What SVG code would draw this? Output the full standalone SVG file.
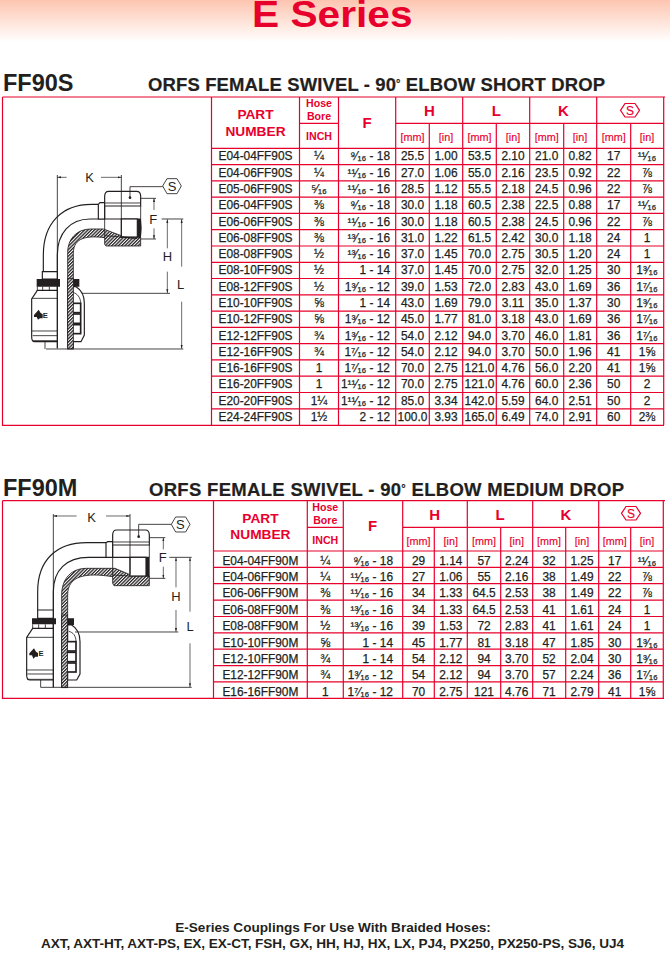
<svg xmlns="http://www.w3.org/2000/svg" width="670" height="953" viewBox="0 0 670 953">
<style>
text{font-family:"Liberation Sans","DejaVu Sans",Arial,sans-serif;fill:#231f20}
.d text{font-size:11.9px;text-anchor:middle;stroke:#231f20;stroke-width:.25}
.d text.r{text-anchor:end}
.h{font-weight:bold;text-anchor:middle;font-size:13.7px;fill:#e8002d}
.s{font-weight:bold;text-anchor:middle;font-size:10.6px;fill:#e8002d}
.c{font-weight:bold;text-anchor:middle;font-size:15px;fill:#e8002d}
.u{text-anchor:middle;font-size:10.8px;fill:#e8002d;stroke:#e8002d;stroke-width:.15}
.ti{font-weight:bold;font-size:18.5px;stroke:#231f20;stroke-width:.2}
.co{font-weight:bold;font-size:23.5px}
.f{font-weight:bold;font-size:13.6px;text-anchor:middle}
.g{fill:none;stroke:#e8002d;stroke-width:1.2}
.l{fill:none;stroke:#231f20;stroke-width:3.5}
.t{fill:none;stroke:#231f20;stroke-width:2.5}
.rb{fill:#fff;stroke:#231f20;stroke-width:5}
.k{fill:#231f20}
.w{fill:#fff;stroke:#231f20;stroke-width:3.5}
.x{fill:url(#hatch);stroke:#231f20;stroke-width:2.5}
.dl{font-size:39px;text-anchor:middle;fill:#231f20}
.ar{fill:none;stroke:#231f20;stroke-width:2;marker-end:url(#am)}
</style>
<defs>
<linearGradient id="top" x1="0" y1="0" x2="0" y2="1"><stop offset="0" stop-color="#fdc5b0"/><stop offset="1" stop-color="#fff"/></linearGradient>
<pattern id="hatch" width="7" height="7" patternUnits="userSpaceOnUse" patternTransform="rotate(-45)"><rect width="7" height="7" fill="#fff"/><rect width="7" height="3.8" fill="#231f20"/></pattern>
<marker id="am" markerWidth="12" markerHeight="8" refX="11" refY="4" orient="auto" markerUnits="userSpaceOnUse"><path d="M0 1L11 4L0 7Z" fill="#231f20"/></marker>
</defs>
<rect width="670" height="42" fill="url(#top)"/>
<text transform="translate(252,26.500) scale(1.13,1)" font-size="36" font-weight="bold" style="fill:#e8002d">E Series</text>

<g id="section-ff90s">
<text class="co" x="3" y="91">FF90S</text>
<text class="ti" x="148" y="91" textLength="457" lengthAdjust="spacing">ORFS FEMALE SWIVEL - 90<tspan font-size="11" dy="-4">°</tspan><tspan dy="4"> ELBOW SHORT DROP</tspan></text>
<path class="g" d="M2.500 97H665M2.500 97V425.300H664M211.500 97V425M299.500 97V425M338.500 97V425M395.700 97V425M462.700 97V425M529.700 97V425M596.700 97V425M663.700 97V425M429.300 123.300V425M496.300 123.300V425M563.700 123.300V425M630.700 123.300V425M299.500 123.300H338.500M395.700 123.300H663.700M211.500 148.300H663.700M211.500 164.600H663.700M211.500 180.900H663.700M211.500 197.200H663.700M211.500 213.400H663.700M211.500 229.700H663.700M211.500 246H663.700M211.500 262.300H663.700M211.500 278.500H663.700M211.500 294.800H663.700M211.500 311.100H663.700M211.500 327.400H663.700M211.500 343.700H663.700M211.500 359.900H663.700M211.500 376.200H663.700M211.500 392.500H663.700M211.500 408.800H663.700"/>
<text class="h" x="255.500" y="119">PART</text><text class="h" x="255.500" y="136">NUMBER</text>
<text class="s" x="319" y="107">Hose</text><text class="s" x="319" y="120">Bore</text><text class="s" x="319" y="140">INCH</text>
<text class="c" x="367" y="128">F</text><text class="c" x="429.300" y="115.500">H</text><text class="c" x="496.300" y="115.500">L</text><text class="c" x="563.300" y="115.500">K</text>
<path class="g" d="M620.500 110.300L625 103.500H635L639.500 110.300L635 117H625Z"/><text class="u" x="630" y="114.500" style="font-size:12px">S</text>
<text class="u" x="412.500" y="141">[mm]</text><text class="u" x="446" y="141">[in]</text><text class="u" x="479.500" y="141">[mm]</text><text class="u" x="513" y="141">[in]</text><text class="u" x="546.700" y="141">[mm]</text><text class="u" x="580" y="141">[in]</text><text class="u" x="613.700" y="141">[mm]</text><text class="u" x="647" y="141">[in]</text>
<g class="d">
<g transform="translate(0,160.400)"><text x="255.500">E04-04FF90S</text><text x="319">¼</text><text class="r" x="390">⁹⁄₁₆ - 18</text><text x="412.500">25.5</text><text x="446">1.00</text><text x="479.500">53.5</text><text x="513">2.10</text><text x="546.700">21.0</text><text x="580">0.82</text><text x="613.700">17</text><text x="647">¹¹⁄₁₆</text></g>
<g transform="translate(0,176.700)"><text x="255.500">E04-06FF90S</text><text x="319">¼</text><text class="r" x="390">¹¹⁄₁₆ - 16</text><text x="412.500">27.0</text><text x="446">1.06</text><text x="479.500">55.0</text><text x="513">2.16</text><text x="546.700">23.5</text><text x="580">0.92</text><text x="613.700">22</text><text x="647">⅞</text></g>
<g transform="translate(0,193)"><text x="255.500">E05-06FF90S</text><text x="319">⁵⁄₁₆</text><text class="r" x="390">¹¹⁄₁₆ - 16</text><text x="412.500">28.5</text><text x="446">1.12</text><text x="479.500">55.5</text><text x="513">2.18</text><text x="546.700">24.5</text><text x="580">0.96</text><text x="613.700">22</text><text x="647">⅞</text></g>
<g transform="translate(0,209.200)"><text x="255.500">E06-04FF90S</text><text x="319">⅜</text><text class="r" x="390">⁹⁄₁₆ - 18</text><text x="412.500">30.0</text><text x="446">1.18</text><text x="479.500">60.5</text><text x="513">2.38</text><text x="546.700">22.5</text><text x="580">0.88</text><text x="613.700">17</text><text x="647">¹¹⁄₁₆</text></g>
<g transform="translate(0,225.500)"><text x="255.500">E06-06FF90S</text><text x="319">⅜</text><text class="r" x="390">¹¹⁄₁₆ - 16</text><text x="412.500">30.0</text><text x="446">1.18</text><text x="479.500">60.5</text><text x="513">2.38</text><text x="546.700">24.5</text><text x="580">0.96</text><text x="613.700">22</text><text x="647">⅞</text></g>
<g transform="translate(0,241.800)"><text x="255.500">E06-08FF90S</text><text x="319">⅜</text><text class="r" x="390">¹³⁄₁₆ - 16</text><text x="412.500">31.0</text><text x="446">1.22</text><text x="479.500">61.5</text><text x="513">2.42</text><text x="546.700">30.0</text><text x="580">1.18</text><text x="613.700">24</text><text x="647">1</text></g>
<g transform="translate(0,258.100)"><text x="255.500">E08-08FF90S</text><text x="319">½</text><text class="r" x="390">¹³⁄₁₆ - 16</text><text x="412.500">37.0</text><text x="446">1.45</text><text x="479.500">70.0</text><text x="513">2.75</text><text x="546.700">30.5</text><text x="580">1.20</text><text x="613.700">24</text><text x="647">1</text></g>
<g transform="translate(0,274.300)"><text x="255.500">E08-10FF90S</text><text x="319">½</text><text class="r" x="390">1 - 14</text><text x="412.500">37.0</text><text x="446">1.45</text><text x="479.500">70.0</text><text x="513">2.75</text><text x="546.700">32.0</text><text x="580">1.25</text><text x="613.700">30</text><text x="647">1³⁄₁₆</text></g>
<g transform="translate(0,290.600)"><text x="255.500">E08-12FF90S</text><text x="319">½</text><text class="r" x="390">1³⁄₁₆ - 12</text><text x="412.500">39.0</text><text x="446">1.53</text><text x="479.500">72.0</text><text x="513">2.83</text><text x="546.700">43.0</text><text x="580">1.69</text><text x="613.700">36</text><text x="647">1⁷⁄₁₆</text></g>
<g transform="translate(0,306.900)"><text x="255.500">E10-10FF90S</text><text x="319">⅝</text><text class="r" x="390">1 - 14</text><text x="412.500">43.0</text><text x="446">1.69</text><text x="479.500">79.0</text><text x="513">3.11</text><text x="546.700">35.0</text><text x="580">1.37</text><text x="613.700">30</text><text x="647">1³⁄₁₆</text></g>
<g transform="translate(0,323.200)"><text x="255.500">E10-12FF90S</text><text x="319">⅝</text><text class="r" x="390">1³⁄₁₆ - 12</text><text x="412.500">45.0</text><text x="446">1.77</text><text x="479.500">81.0</text><text x="513">3.18</text><text x="546.700">43.0</text><text x="580">1.69</text><text x="613.700">36</text><text x="647">1⁷⁄₁₆</text></g>
<g transform="translate(0,339.500)"><text x="255.500">E12-12FF90S</text><text x="319">¾</text><text class="r" x="390">1³⁄₁₆ - 12</text><text x="412.500">54.0</text><text x="446">2.12</text><text x="479.500">94.0</text><text x="513">3.70</text><text x="546.700">46.0</text><text x="580">1.81</text><text x="613.700">36</text><text x="647">1⁷⁄₁₆</text></g>
<g transform="translate(0,355.700)"><text x="255.500">E12-16FF90S</text><text x="319">¾</text><text class="r" x="390">1⁷⁄₁₆ - 12</text><text x="412.500">54.0</text><text x="446">2.12</text><text x="479.500">94.0</text><text x="513">3.70</text><text x="546.700">50.0</text><text x="580">1.96</text><text x="613.700">41</text><text x="647">1⅝</text></g>
<g transform="translate(0,372)"><text x="255.500">E16-16FF90S</text><text x="319">1</text><text class="r" x="390">1⁷⁄₁₆ - 12</text><text x="412.500">70.0</text><text x="446">2.75</text><text x="479.500">121.0</text><text x="513">4.76</text><text x="546.700">56.0</text><text x="580">2.20</text><text x="613.700">41</text><text x="647">1⅝</text></g>
<g transform="translate(0,388.300)"><text x="255.500">E16-20FF90S</text><text x="319">1</text><text class="r" x="390">1¹¹⁄₁₆ - 12</text><text x="412.500">70.0</text><text x="446">2.75</text><text x="479.500">121.0</text><text x="513">4.76</text><text x="546.700">60.0</text><text x="580">2.36</text><text x="613.700">50</text><text x="647">2</text></g>
<g transform="translate(0,404.600)"><text x="255.500">E20-20FF90S</text><text x="319">1¼</text><text class="r" x="390">1¹¹⁄₁₆ - 12</text><text x="412.500">85.0</text><text x="446">3.34</text><text x="479.500">142.0</text><text x="513">5.59</text><text x="546.700">64.0</text><text x="580">2.51</text><text x="613.700">50</text><text x="647">2</text></g>
<g transform="translate(0,420.900)"><text x="255.500">E24-24FF90S</text><text x="319">1½</text><text class="r" x="390">2 - 12</text><text x="412.500">100.0</text><text x="446">3.93</text><text x="479.500">165.0</text><text x="513">6.49</text><text x="546.700">74.0</text><text x="580">2.91</text><text x="613.700">60</text><text x="647">2⅜</text></g>
</g>
<g id="drawing-ff90s" transform="translate(20,165) scale(.33333)">
<path class="l" d="M70 320V270C70 175 125 118 215 118H235"/>
<path class="l" d="M112 550V270C112 205 150 162 210 162H362"/>
<path class="w" d="M235 118L240 113H254V162H235Z"/>
<path class="x" d="M143 550V262C143 222 170 192 212 192H250L304 212V218H254C205 212 160 215 160 265V550Z"/>
<path class="x" d="M254 212L304 216H362V243H258L254 238Z"/>
<path class="w" d="M254 94Q254 79 266 79H350Q362 79 362 94V123H254Z"/>
<path class="t" d="M254 114H362M254 123V212M362 123V165Q366 190 362 212"/>
<rect class="w" x="304" y="162" width="48" height="54"/>
<rect class="k" x="352" y="162" width="11" height="56"/>
<path class="k" d="M304 214L352 218V222L300 218Z"/>
<path class="w" d="M67 320H112V342H67Z"/>
<path class="k" d="M50 342H120V365H50ZM155 342H178V365H155Z"/>
<path class="w" d="M52 376H112V530H44C37 530 35 525 35 515V402Z"/>
<path class="t" d="M52 365V378M68 365V378M88 365V378M112 365V378M36 400H112M36 498H112M38 512H112M38 527H112M75 530V552"/>
<path class="w" d="M155 365H168C185 375 193 395 193 415V510L183 530H155Z"/>
<path class="t" d="M158 382C172 385 182 398 182 415"/>
<rect class="rb" x="152" y="415" width="30" height="28"/><rect class="rb" x="152" y="447" width="30" height="28"/><rect class="rb" x="152" y="479" width="30" height="27"/>
<rect class="x" x="143" y="340" width="17" height="212"/>
<path class="k" d="M42 450L56 434L62 444L68 448V460H60L54 464L50 456L42 456Z"/>
<text x="76" y="458" font-size="23" font-weight="bold" text-anchor="middle" style="fill:#231f20">E</text>
<path class="t" d="M112 30V550M304 30V215M330 98V65H428M362 100H408M362 222H408M425 162H490M185 385H450M78 552H490"/>
<circle class="k" cx="330" cy="98" r="4"/>
<path class="ar" d="M140 37H112"/><path class="ar" d="M243 37H304"/>
<path class="ar" d="M402 135V100"/><path class="ar" d="M402 190V222"/>
<path class="ar" d="M442 250V163"/><path class="ar" d="M442 320V384"/>
<path class="ar" d="M485 305V163"/><path class="ar" d="M485 410V551"/>
<path class="t" fill="#fff" d="M428 63L441 41H471L484 63L471 86H441Z"/>
<text class="dl" x="209" y="52">K</text><text class="dl" x="456" y="77">S</text><text class="dl" x="400" y="176">F</text><text class="dl" x="442" y="289">H</text><text class="dl" x="482" y="373">L</text>
</g>
</g>

<g id="section-ff90m">
<text class="co" x="3" y="496">FF90M</text>
<text class="ti" x="149" y="496" textLength="475" lengthAdjust="spacing">ORFS FEMALE SWIVEL - 90<tspan font-size="11" dy="-4">°</tspan><tspan dy="4"> ELBOW MEDIUM DROP</tspan></text>
<path class="g" d="M2.500 500.700H665M2.500 500.700V698.300H664M213.500 500.700V698M307.300 500.700V698M343.300 500.700V698M402.700 500.700V698M467.300 500.700V698M532.700 500.700V698M598.700 500.700V698M663.300 500.700V698M434.300 527.300V698M500.700 527.300V698M565.700 527.300V698M630.700 527.300V698M307.300 527.300H343.300M402.700 527.300H663.300M213.500 551H663.300M213.500 567.400H663.300M213.500 583.700H663.300M213.500 600.100H663.300M213.500 616.500H663.300M213.500 632.800H663.300M213.500 649.200H663.300M213.500 665.600H663.300M213.500 681.900H663.300"/>
<text class="h" x="260.400" y="523">PART</text><text class="h" x="260.400" y="539">NUMBER</text>
<text class="s" x="325.300" y="510.700">Hose</text><text class="s" x="325.300" y="524">Bore</text><text class="s" x="325.300" y="544">INCH</text>
<text class="c" x="372.700" y="531">F</text><text class="c" x="434.700" y="519.500">H</text><text class="c" x="500" y="519.500">L</text><text class="c" x="566" y="519.500">K</text>
<path class="g" d="M621.500 513.300L626 506.500H636L640.500 513.300L636 520H626Z"/><text class="u" x="631" y="517.500" style="font-size:12px">S</text>
<text class="u" x="418.500" y="545">[mm]</text><text class="u" x="450.800" y="545">[in]</text><text class="u" x="484" y="545">[mm]</text><text class="u" x="516.700" y="545">[in]</text><text class="u" x="549" y="545">[mm]</text><text class="u" x="582" y="545">[in]</text><text class="u" x="614.700" y="545">[mm]</text><text class="u" x="647" y="545">[in]</text>
<g class="d">
<g transform="translate(0,564.700)"><text x="260.400">E04-04FF90M</text><text x="325.300">¼</text><text class="r" x="393">⁹⁄₁₆ - 18</text><text x="418.500">29</text><text x="450.800">1.14</text><text x="484">57</text><text x="516.700">2.24</text><text x="549">32</text><text x="582">1.25</text><text x="614.700">17</text><text x="647">¹¹⁄₁₆</text></g>
<g transform="translate(0,581.100)"><text x="260.400">E04-06FF90M</text><text x="325.300">¼</text><text class="r" x="393">¹¹⁄₁₆ - 16</text><text x="418.500">27</text><text x="450.800">1.06</text><text x="484">55</text><text x="516.700">2.16</text><text x="549">38</text><text x="582">1.49</text><text x="614.700">22</text><text x="647">⅞</text></g>
<g transform="translate(0,597.400)"><text x="260.400">E06-06FF90M</text><text x="325.300">⅜</text><text class="r" x="393">¹¹⁄₁₆ - 16</text><text x="418.500">34</text><text x="450.800">1.33</text><text x="484">64.5</text><text x="516.700">2.53</text><text x="549">38</text><text x="582">1.49</text><text x="614.700">22</text><text x="647">⅞</text></g>
<g transform="translate(0,613.800)"><text x="260.400">E06-08FF90M</text><text x="325.300">⅜</text><text class="r" x="393">¹³⁄₁₆ - 16</text><text x="418.500">34</text><text x="450.800">1.33</text><text x="484">64.5</text><text x="516.700">2.53</text><text x="549">41</text><text x="582">1.61</text><text x="614.700">24</text><text x="647">1</text></g>
<g transform="translate(0,630.200)"><text x="260.400">E08-08FF90M</text><text x="325.300">½</text><text class="r" x="393">¹³⁄₁₆ - 16</text><text x="418.500">39</text><text x="450.800">1.53</text><text x="484">72</text><text x="516.700">2.83</text><text x="549">41</text><text x="582">1.61</text><text x="614.700">24</text><text x="647">1</text></g>
<g transform="translate(0,646.500)"><text x="260.400">E10-10FF90M</text><text x="325.300">⅝</text><text class="r" x="393">1 - 14</text><text x="418.500">45</text><text x="450.800">1.77</text><text x="484">81</text><text x="516.700">3.18</text><text x="549">47</text><text x="582">1.85</text><text x="614.700">30</text><text x="647">1³⁄₁₆</text></g>
<g transform="translate(0,662.900)"><text x="260.400">E12-10FF90M</text><text x="325.300">¾</text><text class="r" x="393">1 - 14</text><text x="418.500">54</text><text x="450.800">2.12</text><text x="484">94</text><text x="516.700">3.70</text><text x="549">52</text><text x="582">2.04</text><text x="614.700">30</text><text x="647">1³⁄₁₆</text></g>
<g transform="translate(0,679.300)"><text x="260.400">E12-12FF90M</text><text x="325.300">¾</text><text class="r" x="393">1³⁄₁₆ - 12</text><text x="418.500">54</text><text x="450.800">2.12</text><text x="484">94</text><text x="516.700">3.70</text><text x="549">57</text><text x="582">2.24</text><text x="614.700">36</text><text x="647">1⁷⁄₁₆</text></g>
<g transform="translate(0,695.600)"><text x="260.400">E16-16FF90M</text><text x="325.300">1</text><text class="r" x="393">1⁷⁄₁₆ - 12</text><text x="418.500">70</text><text x="450.800">2.75</text><text x="484">121</text><text x="516.700">4.76</text><text x="549">71</text><text x="582">2.79</text><text x="614.700">41</text><text x="647">1⅝</text></g>
</g>
<g id="drawing-ff90m" transform="translate(20,500) scale(.33333)">
<path class="l" d="M53 330V275C53 180 110 128 200 128H258"/>
<path class="l" d="M100 562V275C100 210 140 172 205 172H388"/>
<path class="w" d="M258 128L263 125H278V172H258Z"/>
<path class="x" d="M125 562V285C125 235 155 205 200 205H285L330 224V230H278C200 218 143 225 143 285V562Z"/>
<path class="x" d="M278 225L330 228H388V257H282L278 250Z"/>
<path class="w" d="M278 105Q278 90 290 90H376Q388 90 388 105V135H278Z"/>
<path class="t" d="M278 126H388M278 135V225M388 135V172"/>
<rect class="w" x="330" y="172" width="48" height="56"/>
<rect class="k" x="378" y="172" width="11" height="58"/>
<path class="w" d="M53 330H100V355H53Z"/>
<path class="k" d="M36 355H108V373H36ZM143 355H162V375H143Z"/>
<path class="w" d="M38 385H100V540H30C22 540 20 535 20 525V412Z"/>
<path class="t" d="M38 373V385M56 373V385M76 373V385M100 373V385M21 412H100M21 510H100M22 522H100M22 538H100M62 540V562"/>
<path class="w" d="M143 375H155C172 385 180 405 180 425V522L170 540H143Z"/>
<path class="t" d="M146 394C160 397 168 408 168 425"/>
<rect class="rb" x="140" y="425" width="28" height="28"/><rect class="rb" x="140" y="457" width="28" height="28"/><rect class="rb" x="140" y="489" width="28" height="27"/>
<rect class="x" x="125" y="345" width="17" height="218"/>
<path class="k" d="M28 460L42 445L48 455L54 459V470H46L40 476L36 466L28 466Z"/>
<text x="63" y="468" font-size="23" font-weight="bold" text-anchor="middle" style="fill:#231f20">E</text>
<path class="t" d="M100 42V562M330 42V222M356 110V73H454M388 113H436M388 235H436M448 172H515M165 396H475M62 562H515"/>
<circle class="k" cx="356" cy="110" r="4"/>
<path class="ar" d="M170 48H100"/><path class="ar" d="M258 48H330"/>
<path class="ar" d="M430 148V113"/><path class="ar" d="M430 200V235"/>
<path class="ar" d="M468 262V173"/><path class="ar" d="M468 330V395"/>
<path class="ar" d="M510 335V173"/><path class="ar" d="M510 430V561"/>
<path class="t" fill="#fff" d="M454 73L467 51H497L510 73L497 96H467Z"/>
<text class="dl" x="215" y="65">K</text><text class="dl" x="481" y="87">S</text><text class="dl" x="428" y="187">F</text><text class="dl" x="468" y="302">H</text><text class="dl" x="510" y="394">L</text>
</g>
</g>

<text class="f" x="333" y="932">E-Series Couplings For Use With Braided Hoses:</text>
<text class="f" x="332.500" y="948" textLength="583" lengthAdjust="spacing">AXT, AXT-HT, AXT-PS, EX, EX-CT, FSH, GX, HH, HJ, HX, LX, PJ4, PX250, PX250-PS, SJ6, UJ4</text>
</svg>
